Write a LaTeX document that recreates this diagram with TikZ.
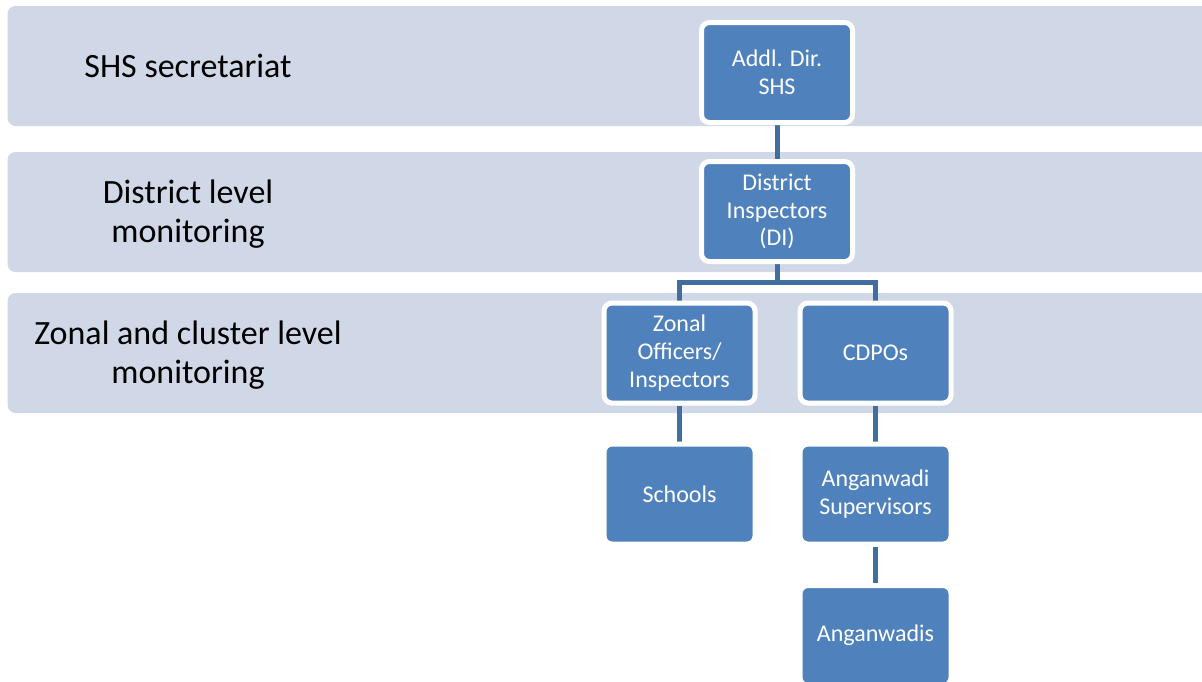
\documentclass[tikz,border=0pt]{standalone}
\usepackage{fontspec}
\setmainfont{Carlito}
\usepackage{tikz}
\usetikzlibrary{calc, backgrounds, positioning}
\definecolor{bandgray}{RGB}{208,216,232}
\definecolor{postblue}{RGB}{79,129,189}
\definecolor{linkblue}{RGB}{65,109,161}
\tikzset{
  band/.style={rectangle, fill=bandgray, rounded corners=4pt, inner sep=0pt,
    minimum width=602.5pt, minimum height=60pt},
  lvl/.style={font=\fontsize{17}{19.5}\selectfont, text=black, align=center},
  post/.style={rectangle, draw=white, line width=2.5pt, fill=postblue, rounded corners=4pt,
    minimum width=75.5pt, minimum height=50pt, inner sep=1pt,
    font=\fontsize{12}{13.8}\selectfont, text=white, align=center},
  link/.style={draw=linkblue, line width=2.5pt}
}
\begin{document}
\begin{tikzpicture}[x=0.5pt, y=-0.5pt]
  \useasboundingbox (0,0) rectangle (1202,681);
  % chart posts
  \node[post] (addl) at (777,72.5) {Addl. Dir.\\SHS};
  \node[post] (di) at (777,211.5) {District\\Inspectors\\(DI)};
  \node[post] (zonal) at (679.5,353) {Zonal\\Officers/\\Inspectors};
  \node[post] (cdpo) at (875.5,353) {CDPOs};
  \node[post] (schools) at (679.5,494) {Schools};
  \node[post] (asup) at (875.5,494) {Anganwadi\\Supervisors};
  \node[post] (awc) at (875.5,635.5) {Anganwadis};
  \begin{scope}[on background layer]
    % level bands
    \node[band] (shsband) at (610,66) {};
    \node[band] (distband) at (610,212) {};
    \node[band] (zoneband) at (610,353) {};
    \node[lvl] (shslbl) at (188,66) {SHS secretariat};
    \node[lvl] (distlbl) at (188,214) {District level\\monitoring};
    \node[lvl] (zonelbl) at (188,355) {Zonal and cluster level\\monitoring};
    % connectors
    \draw[link] (addl) -- (di);
    \coordinate (fork) at ($(di.south)!0.5!(di.south |- zonal.north)$);
    \draw[link] (di) -- (fork) -| (zonal);
    \draw[link] (fork) -| (cdpo);
    \draw[link] (zonal) -- (schools);
    \draw[link] (cdpo) -- (asup);
    \draw[link] (asup) -- (awc);
  \end{scope}
\end{tikzpicture}
\end{document}
